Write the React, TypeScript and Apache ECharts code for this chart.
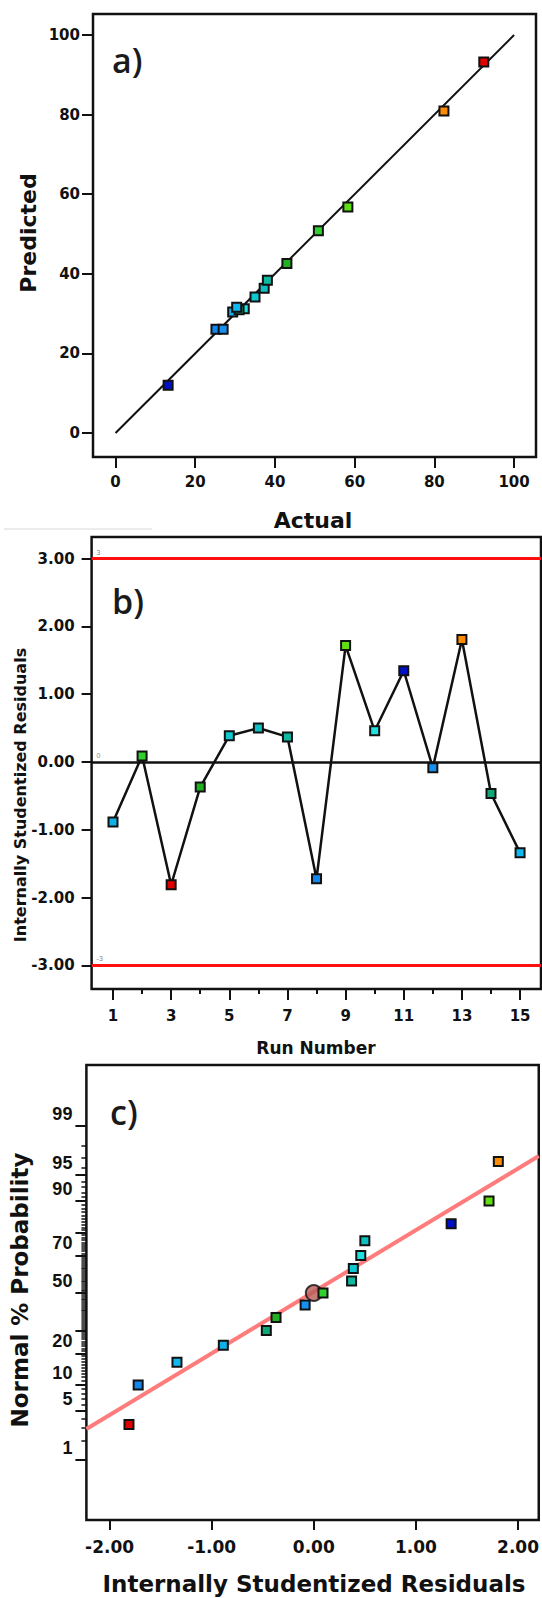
import React, { useEffect, useRef } from "react";
import * as echarts from "echarts";

// ---------- data ----------
const runNumbers = [1, 2, 3, 4, 5, 6, 7, 8, 9, 10, 11, 12, 13, 14, 15];
const actualValues = [29.4, 50.9, 92.4, 43.0, 35.0, 37.3, 38.1, 25.2, 58.3, 32.3, 13.2, 27.0, 82.4, 31.0, 30.4];
const predictedValues = [30.4, 50.8, 93.2, 42.6, 34.2, 36.4, 38.4, 26.1, 56.8, 31.2, 12.0, 26.1, 80.9, 31.0, 31.6];
const residuals = [-0.886, 0.09, -1.81, -0.37, 0.387, 0.5, 0.37, -1.72, 1.716, 0.46, 1.345, -0.085, 1.807, -0.465, -1.34];
const runColors = [
  "#10b0e8", "#30d030", "#e00000", "#20b020", "#10c8d0",
  "#10c0c0", "#10b8a0", "#1088f0", "#60e010", "#20e0e0",
  "#0010c8", "#1890f0", "#ff8c00", "#10a878", "#10b8f0",
];
const normalProbPct = [3.33, 10, 16.67, 23.33, 30, 36.67, 43.33, 50, 56.67, 63.33, 70, 76.67, 83.33, 90, 96.67];

const axisATicks = [0, 20, 40, 60, 80, 100];
const axisBYTicks = [-3, -2, -1, 0, 1, 2, 3];
const axisBXMajor = [1, 3, 5, 7, 9, 11, 13, 15];
const axisBXMinor = [2, 4, 6, 8, 10, 12, 14];
const axisCXTicks = [-2, -1, 0, 1, 2];
const probMajorTicks = [1, 5, 10, 20, 30, 50, 70, 80, 90, 95, 99];
const probLabels = [1, 5, 10, 20, 50, 70, 90, 95, 99];
const probMinorTicks = [
  2, 3, 4, 6, 7, 8, 9, 11, 12, 13, 14, 15, 16, 17, 18, 19, 21, 22, 23, 24, 25, 26, 27, 28, 29,
  31, 32, 33, 34, 35, 36, 37, 38, 39, 40, 41, 42, 43, 44, 45, 46, 47, 48, 49, 51, 52, 53, 54, 55,
  56, 57, 58, 59, 60, 61, 62, 63, 64, 65, 66, 67, 68, 69, 71, 72, 73, 74, 75, 76, 77, 78, 79, 81,
  82, 83, 84, 85, 86, 87, 88, 89, 91, 92, 93, 94, 96, 97, 98,
];
const controlLimits = [3, 0, -3];
const fitLineX = [-2.227, 2.203];
const fitLinePct = [2.9, 97.2];
const centerPoint = [0, 50];
const diagonalLine = [0, 100];

// ---------- probit scale (inverse normal CDF) ----------
function probit(p: number): number {
  const a = [-39.69683028665376, 220.9460984245205, -275.9285104469687, 138.357751867269, -30.66479806614716, 2.506628277459239];
  const b = [-54.47609879822406, 161.5858368580409, -155.6989798598866, 66.80131188771972, -13.28068155288572];
  const c = [-0.007784894002430293, -0.3223964580411365, -2.400758277161838, -2.549732539343734, 4.374664141464968, 2.938163982698783];
  const d = [0.007784695709041462, 0.3224671290700398, 2.445134137142996, 3.754408661907416];
  const pl = 0.02425;
  if (p < pl) {
    const q = Math.sqrt(-2 * Math.log(p));
    return (((((c[0] * q + c[1]) * q + c[2]) * q + c[3]) * q + c[4]) * q + c[5]) / ((((d[0] * q + d[1]) * q + d[2]) * q + d[3]) * q + 1);
  }
  if (p <= 1 - pl) {
    const q = p - 0.5;
    const r = q * q;
    return ((((((a[0] * r + a[1]) * r + a[2]) * r + a[3]) * r + a[4]) * r + a[5]) * q) / (((((b[0] * r + b[1]) * r + b[2]) * r + b[3]) * r + b[4]) * r + 1);
  }
  const q = Math.sqrt(-2 * Math.log(1 - p));
  return -(((((c[0] * q + c[1]) * q + c[2]) * q + c[3]) * q + c[4]) * q + c[5]) / ((((d[0] * q + d[1]) * q + d[2]) * q + d[3]) * q + 1);
}
const z = (pct: number) => probit(pct / 100);

const FONT = "DejaVu Sans";
const INK = "#111111";

export default function App() {
  const ref = useRef<HTMLDivElement | null>(null);

  useEffect(() => {
    document.body.style.margin = "0";
    if (!ref.current) return;
    const chart = echarts.init(ref.current, undefined, { renderer: "svg" });

    const tickStyle = { color: INK, width: 2 };
    const labelBase = { color: INK, fontWeight: "bold" as const, fontFamily: FONT };
    const noLine = { show: false, onZero: false };

    const order = residuals.map((_, i) => i).sort((i, j) => residuals[i] - residuals[j]);
    const probLabelZ = probLabels.map(z);

    const option: any = {
      animation: false,
      backgroundColor: "#ffffff",
      grid: [
        { left: 93, top: 14, width: 443, height: 443, show: true, borderColor: INK, borderWidth: 2.5, backgroundColor: "transparent" },
        { left: 91.6, top: 537, width: 449.4, height: 452, show: true, borderColor: INK, borderWidth: 2.5, backgroundColor: "transparent" },
        { left: 86.4, top: 1065, width: 454.6, height: 455, show: true, borderColor: INK, borderWidth: 2.5, backgroundColor: "transparent" },
      ],
      xAxis: [
        {
          gridIndex: 0, type: "value", position: "bottom", min: -5.65, max: 105.5,
          axisLine: noLine, splitLine: { show: false },
          axisTick: { customValues: axisATicks, length: 11, lineStyle: tickStyle },
          axisLabel: { ...labelBase, customValues: axisATicks, margin: 17, fontSize: 15 },
        },
        {
          gridIndex: 1, type: "value", position: "bottom", min: 0.264, max: 15.72,
          axisLine: noLine, splitLine: { show: false },
          axisTick: { customValues: axisBXMajor, length: 11, lineStyle: tickStyle },
          axisLabel: { ...labelBase, customValues: axisBXMajor, margin: 19, fontSize: 15 },
        },
        {
          gridIndex: 1, type: "value", position: "bottom", offset: 0, min: 0.264, max: 15.72,
          axisLine: noLine, splitLine: { show: false },
          axisTick: { customValues: axisBXMinor, length: 5, lineStyle: tickStyle },
          axisLabel: { show: false },
        },
        {
          gridIndex: 2, type: "value", position: "bottom", min: -2.227, max: 2.203,
          axisLine: noLine, splitLine: { show: false },
          axisTick: { customValues: axisCXTicks, length: 10, lineStyle: tickStyle },
          axisLabel: { ...labelBase, customValues: axisCXTicks, margin: 18, fontSize: 17, formatter: (v: number) => v.toFixed(2) },
        },
      ],
      yAxis: [
        {
          gridIndex: 0, type: "value", position: "left", min: -6.03, max: 105.28,
          axisLine: noLine, splitLine: { show: false },
          axisTick: { customValues: axisATicks, length: 11, lineStyle: tickStyle },
          axisLabel: { ...labelBase, customValues: axisATicks, margin: 13, fontSize: 15 },
        },
        {
          gridIndex: 1, type: "value", position: "left", min: -3.347, max: 3.317,
          axisLine: noLine, splitLine: { show: false },
          axisTick: { customValues: axisBYTicks, length: 10, lineStyle: tickStyle },
          axisLabel: { ...labelBase, customValues: axisBYTicks, margin: 17, fontSize: 15, formatter: (v: number) => v.toFixed(2) },
        },
        {
          gridIndex: 2, type: "value", position: "left", min: -3.166, max: 3.18,
          axisLine: noLine, splitLine: { show: false },
          axisTick: { customValues: probMajorTicks.map(z), length: 11, lineStyle: tickStyle },
          axisLabel: {
            color: INK, fontWeight: "bold", fontFamily: "Liberation Sans", fontSize: 18,
            customValues: probLabelZ, margin: 14, verticalAlign: "bottom", lineHeight: 24,
            formatter: (v: number) => {
              let best = 0;
              probLabelZ.forEach((zz, k) => { if (Math.abs(zz - v) < Math.abs(probLabelZ[best] - v)) best = k; });
              return String(probLabels[best]);
            },
          },
        },
        {
          gridIndex: 2, type: "value", position: "left", offset: 0, min: -3.166, max: 3.18,
          axisLine: noLine, splitLine: { show: false },
          axisTick: { customValues: probMinorTicks.map(z), length: 5, lineStyle: { color: INK, width: 1.5 } },
          axisLabel: { show: false },
        },
      ],
      graphic: [
        { type: "text", x: 112, y: 60, style: { text: "a)", fontSize: 34, fontFamily: "Open Sans", fontWeight: 600, fill: "#1a1a1a", verticalAlign: "middle" } },
        { type: "text", x: 112, y: 601, style: { text: "b)", fontSize: 34, fontFamily: "Open Sans", fontWeight: 600, fill: "#1a1a1a", verticalAlign: "middle" } },
        { type: "text", x: 110, y: 1112, style: { text: "c)", fontSize: 34, fontFamily: "Open Sans", fontWeight: 600, fill: "#1a1a1a", verticalAlign: "middle" } },
        { type: "text", x: 28, y: 233, rotation: Math.PI / 2, style: { text: "Predicted", fontSize: 22, fontFamily: FONT, fontWeight: "bold", fill: INK, align: "center", verticalAlign: "middle" } },
        { type: "text", x: 313, y: 520, style: { text: "Actual", fontSize: 22, fontFamily: FONT, fontWeight: "bold", fill: INK, align: "center", verticalAlign: "middle" } },
        { type: "text", x: 20, y: 795, rotation: Math.PI / 2, style: { text: "Internally Studentized Residuals", fontSize: 16, fontFamily: FONT, fontWeight: "bold", fill: INK, align: "center", verticalAlign: "middle" } },
        { type: "text", x: 316, y: 1048, style: { text: "Run Number", fontSize: 17, fontFamily: FONT, fontWeight: "bold", fill: INK, align: "center", verticalAlign: "middle" } },
        { type: "text", x: 20, y: 1290, rotation: Math.PI / 2, style: { text: "Normal % Probability", fontSize: 23, fontFamily: FONT, fontWeight: "bold", fill: INK, align: "center", verticalAlign: "middle" } },
        { type: "text", x: 314, y: 1584, style: { text: "Internally Studentized Residuals", fontSize: 23, fontFamily: FONT, fontWeight: "bold", fill: INK, align: "center", verticalAlign: "middle" } },
        { type: "line", shape: { x1: 4, y1: 529, x2: 152, y2: 529 }, style: { stroke: "#d8d8d8", lineWidth: 1 } },
      ],
      series: [
        {
          type: "line", xAxisIndex: 0, yAxisIndex: 0, symbol: "none", z: 2,
          data: [[diagonalLine[0], diagonalLine[0]], [diagonalLine[1], diagonalLine[1]]],
          lineStyle: { color: INK, width: 2 },
        },
        {
          type: "scatter", xAxisIndex: 0, yAxisIndex: 0, symbol: "rect", symbolSize: 9, z: 3,
          data: actualValues.map((a, i) => ({ value: [a, predictedValues[i]], itemStyle: { color: runColors[i] } })),
          itemStyle: { borderColor: INK, borderWidth: 2, opacity: 1 },
        },
        {
          type: "line", xAxisIndex: 1, yAxisIndex: 1, symbol: "rect", symbolSize: 9, z: 3, showAllSymbol: true,
          data: runNumbers.map((r, i) => ({ value: [r, residuals[i]], itemStyle: { color: runColors[i] } })),
          lineStyle: { color: INK, width: 2.5 },
          itemStyle: { borderColor: INK, borderWidth: 2 },
          markLine: {
            z: 1, silent: true, symbol: ["none", "none"],
            label: { show: true, position: "insideStartTop", formatter: (p: any) => String(p.value), fontSize: 7, color: "#888888", distance: [5, 3] },
            data: controlLimits.map((v) => ({
              yAxis: v,
              lineStyle: { color: v === 0 ? INK : "#ff1010", width: v === 0 ? 2.5 : 3, type: "solid" },
            })),
          },
        },
        {
          type: "line", xAxisIndex: 3, yAxisIndex: 2, symbol: "none", z: 2,
          data: fitLineX.map((x, k) => [x, z(fitLinePct[k])]),
          lineStyle: { color: "#ff7c7c", width: 4 },
        },
        {
          type: "scatter", xAxisIndex: 3, yAxisIndex: 2, symbol: "circle", symbolSize: 16, z: 3,
          data: [[centerPoint[0], z(centerPoint[1])]],
          itemStyle: { color: "#b85a55", borderColor: INK, borderWidth: 2 },
        },
        {
          type: "scatter", xAxisIndex: 3, yAxisIndex: 2, symbol: "rect", symbolSize: 9, z: 4,
          data: order.map((i, k) => ({ value: [residuals[i], z(normalProbPct[k])], itemStyle: { color: runColors[i] } })),
          itemStyle: { borderColor: INK, borderWidth: 2, opacity: 1 },
        },
      ],
    };

    chart.setOption(option);
    return () => chart.dispose();
  }, []);

  return <div ref={ref} style={{ width: 542, height: 1598 }} />;
}
